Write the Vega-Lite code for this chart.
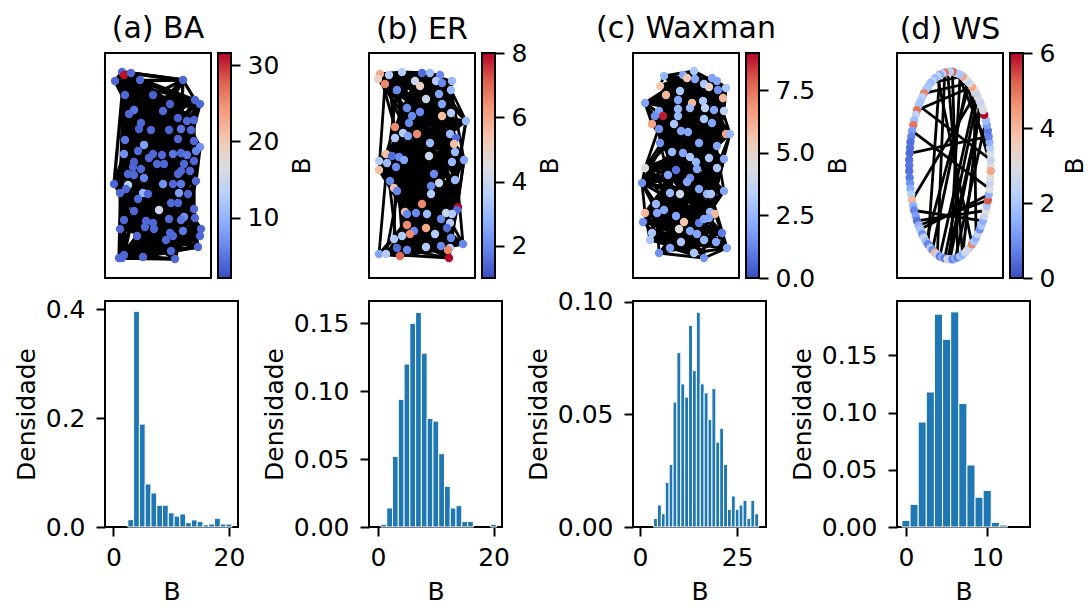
{
"$schema":"https://vega.github.io/schema/vega-lite/v6.json",
"background":"white",
"padding":{"left":13,"top":14,"right":0,"bottom":0},
"config":{
 "font":"DejaVu Sans",
 "view":{"stroke":"black","strokeWidth":2},
 "axis":{"labelFont":"DejaVu Sans","titleFont":"DejaVu Sans","labelFontSize":25,"titleFontSize":25,"titleFontWeight":"normal","labelColor":"black","titleColor":"black","tickColor":"black","tickWidth":2,"tickSize":9,"domain":false,"grid":false,"labelPadding":9,"labelFlush":false,"labelOverlap":false,"titlePadding":9},
 "title":{"font":"DejaVu Sans","fontSize":30,"fontWeight":"normal","color":"black","offset":14,"baseline":"alphabetic","frame":"group"}
},
"datasets":{
 "nodesA":[
{"id":1,"x":0.17,"y":2.06,"B":4,"nb":[3,6,12,24,32,42]},
{"id":2,"x":0.19,"y":2.03,"B":31,"nb":[4,7,8,12,13,14,17,19,20,25,26,29,30,33,37,43,44,48,52,53,57,58,62,66,71,78,84,88,90]},
{"id":3,"x":0.26,"y":2.05,"B":4,"nb":[5,8,14,26,34,44]},
{"id":4,"x":0.10,"y":1.97,"B":4,"nb":[6,9,15,27,35]},
{"id":5,"x":0.35,"y":1.98,"B":4,"nb":[7,10,16,28,36,46]},
{"id":6,"x":0.78,"y":1.98,"B":4,"nb":[8,11,17,29,37]},
{"id":7,"x":0.20,"y":1.83,"B":4,"nb":[9,12,18,30,38,48]},
{"id":8,"x":0.48,"y":1.83,"B":3.5,"nb":[10,13,19,31,39]},
{"id":9,"x":0.90,"y":1.78,"B":4,"nb":[11,14,20,32,40,50]},
{"id":10,"x":0.95,"y":1.74,"B":4,"nb":[12,15,21,33,41]},
{"id":11,"x":0.65,"y":1.74,"B":3.5,"nb":[13,16,22,34,42,52]},
{"id":12,"x":0.29,"y":1.68,"B":5,"nb":[14,17,23,35,43]},
{"id":13,"x":0.24,"y":1.64,"B":4,"nb":[15,18,24,36,44,54]},
{"id":14,"x":0.58,"y":1.67,"B":4,"nb":[16,19,25,37,45]},
{"id":15,"x":0.73,"y":1.60,"B":3.5,"nb":[17,20,26,38,46,56]},
{"id":16,"x":0.89,"y":1.58,"B":4,"nb":[18,21,27,39,47]},
{"id":17,"x":0.36,"y":1.55,"B":4,"nb":[19,22,28,40,48,58]},
{"id":18,"x":0.82,"y":1.57,"B":4,"nb":[20,23,29,41,49]},
{"id":19,"x":0.34,"y":1.49,"B":3.5,"nb":[21,24,30,42,50,60]},
{"id":20,"x":0.46,"y":1.48,"B":4,"nb":[22,25,31,43,51]},
{"id":21,"x":0.76,"y":1.49,"B":5,"nb":[23,26,32,44,52,62]},
{"id":22,"x":0.64,"y":1.48,"B":3.5,"nb":[24,27,33,45,53]},
{"id":23,"x":0.86,"y":1.48,"B":4,"nb":[25,28,34,46,54,64]},
{"id":24,"x":0.20,"y":1.38,"B":5,"nb":[26,29,35,47,55]},
{"id":25,"x":0.73,"y":1.39,"B":4,"nb":[27,30,36,48,56,66]},
{"id":26,"x":0.39,"y":1.33,"B":8,"nb":[28,31,37,49,57]},
{"id":27,"x":0.89,"y":1.37,"B":4,"nb":[29,32,38,50,58,68]},
{"id":28,"x":0.95,"y":1.31,"B":7,"nb":[30,33,39,51,59]},
{"id":29,"x":0.19,"y":1.24,"B":7,"nb":[31,34,40,52,60,70]},
{"id":30,"x":0.33,"y":1.27,"B":4,"nb":[32,35,41,53,61]},
{"id":31,"x":0.48,"y":1.24,"B":4,"nb":[33,36,42,54,62,72]},
{"id":32,"x":0.57,"y":1.23,"B":4,"nb":[34,37,43,55,63]},
{"id":33,"x":0.68,"y":1.24,"B":5,"nb":[35,38,44,56,64,74]},
{"id":34,"x":0.76,"y":1.25,"B":4,"nb":[36,39,45,57,65]},
{"id":35,"x":0.82,"y":1.23,"B":5,"nb":[37,40,46,58,66,76]},
{"id":36,"x":0.91,"y":1.27,"B":6,"nb":[38,41,47,59,67]},
{"id":37,"x":0.29,"y":1.16,"B":3.5,"nb":[39,42,48,60,68,78]},
{"id":38,"x":0.44,"y":1.20,"B":4,"nb":[40,43,49,61,69]},
{"id":39,"x":0.52,"y":1.14,"B":4,"nb":[41,44,50,62,70,80]},
{"id":40,"x":0.59,"y":1.14,"B":4,"nb":[42,45,51,63,71]},
{"id":41,"x":0.79,"y":1.14,"B":4,"nb":[43,46,52,64,72,82]},
{"id":42,"x":0.89,"y":1.17,"B":4,"nb":[44,47,53,65,73]},
{"id":43,"x":0.28,"y":1.11,"B":4,"nb":[45,48,54,66,74,84]},
{"id":44,"x":0.36,"y":1.09,"B":4,"nb":[46,49,55,67,75]},
{"id":45,"x":0.76,"y":1.07,"B":4,"nb":[47,50,56,68,76,86]},
{"id":46,"x":0.85,"y":1.07,"B":4,"nb":[48,51,57,69,77]},
{"id":47,"x":0.73,"y":1.04,"B":4,"nb":[49,52,58,70,78,88]},
{"id":48,"x":0.23,"y":1.04,"B":4,"nb":[50,53,59,71,79]},
{"id":49,"x":0.29,"y":1.03,"B":4,"nb":[51,54,60,72,80,90]},
{"id":50,"x":0.39,"y":1.00,"B":6,"nb":[52,55,61,73,81]},
{"id":51,"x":0.91,"y":0.97,"B":4,"nb":[53,56,62,74,82,92]},
{"id":52,"x":0.09,"y":0.94,"B":4,"nb":[54,57,63,75,83]},
{"id":53,"x":0.23,"y":0.93,"B":13,"nb":[55,58,64,76,84]},
{"id":54,"x":0.68,"y":0.94,"B":4,"nb":[56,59,65,77,85]},
{"id":55,"x":0.76,"y":0.94,"B":5,"nb":[57,60,66,78,86]},
{"id":56,"x":0.58,"y":0.94,"B":7,"nb":[58,61,67,79,87]},
{"id":57,"x":0.15,"y":0.85,"B":4,"nb":[59,62,68,80,88]},
{"id":58,"x":0.21,"y":0.89,"B":4,"nb":[60,63,69,81,89]},
{"id":59,"x":0.38,"y":0.85,"B":10,"nb":[61,64,70,82,90]},
{"id":60,"x":0.43,"y":0.84,"B":4,"nb":[62,65,71,83,91]},
{"id":61,"x":0.74,"y":0.85,"B":8,"nb":[63,66,72,84,92]},
{"id":62,"x":0.33,"y":0.79,"B":4,"nb":[64,67,73,85]},
{"id":63,"x":0.83,"y":0.84,"B":4,"nb":[65,68,74,86]},
{"id":64,"x":0.66,"y":0.75,"B":4,"nb":[66,69,75,87]},
{"id":65,"x":0.73,"y":0.75,"B":4,"nb":[67,70,76,88]},
{"id":66,"x":0.29,"y":0.67,"B":4,"nb":[68,71,77,89]},
{"id":67,"x":0.54,"y":0.68,"B":15,"nb":[69,72,78,90]},
{"id":68,"x":0.89,"y":0.69,"B":4,"nb":[70,73,79,91]},
{"id":69,"x":0.79,"y":0.61,"B":7,"nb":[71,74,80,92]},
{"id":70,"x":0.90,"y":0.60,"B":4,"nb":[72,75,81]},
{"id":71,"x":0.19,"y":0.58,"B":4,"nb":[73,76,82]},
{"id":72,"x":0.41,"y":0.57,"B":4,"nb":[74,77,83]},
{"id":73,"x":0.48,"y":0.55,"B":4,"nb":[75,78,84]},
{"id":74,"x":0.64,"y":0.59,"B":4,"nb":[76,79,85]},
{"id":75,"x":0.76,"y":0.58,"B":5,"nb":[77,80,86]},
{"id":76,"x":0.40,"y":0.51,"B":4,"nb":[78,81,87]},
{"id":77,"x":0.49,"y":0.49,"B":4,"nb":[79,82,88]},
{"id":78,"x":0.15,"y":0.49,"B":4,"nb":[80,83,89]},
{"id":79,"x":0.78,"y":0.47,"B":5,"nb":[81,84,90]},
{"id":80,"x":0.96,"y":0.49,"B":4,"nb":[82,85,91]},
{"id":81,"x":0.65,"y":0.45,"B":4,"nb":[83,86,92]},
{"id":82,"x":0.61,"y":0.38,"B":4,"nb":[84,87]},
{"id":83,"x":0.68,"y":0.42,"B":4,"nb":[85,88]},
{"id":84,"x":0.32,"y":0.42,"B":4,"nb":[86,89]},
{"id":85,"x":0.95,"y":0.42,"B":4,"nb":[87,90]},
{"id":86,"x":0.93,"y":0.31,"B":4,"nb":[88,91]},
{"id":87,"x":0.66,"y":0.27,"B":4,"nb":[89,92]},
{"id":88,"x":0.17,"y":0.20,"B":4,"nb":[90]},
{"id":89,"x":0.19,"y":0.23,"B":4,"nb":[91]},
{"id":90,"x":0.14,"y":0.20,"B":4,"nb":[92]},
{"id":91,"x":0.38,"y":0.21,"B":4,"nb":[]},
{"id":92,"x":0.70,"y":0.19,"B":4,"nb":[]}
 ],
 "moreA":[
{"id":1,"nb":[4,9,16]},{"id":2,"nb":[5,10,17]},{"id":3,"nb":[6,11,18]},{"id":4,"nb":[7,12,19]},{"id":5,"nb":[8,13,20]},{"id":6,"nb":[9,14,21]},{"id":7,"nb":[10,15,22]},{"id":8,"nb":[11,16,23]},{"id":9,"nb":[12,17,24]},{"id":10,"nb":[13,18,25]},
{"id":11,"nb":[14,19,26]},{"id":12,"nb":[15,20,27]},{"id":13,"nb":[16,21,28]},{"id":14,"nb":[17,22,29]},{"id":15,"nb":[18,23,30]},{"id":16,"nb":[19,24,31]},{"id":17,"nb":[20,25,32]},{"id":18,"nb":[21,26,33]},{"id":19,"nb":[22,27,34]},{"id":20,"nb":[23,28,35]},
{"id":21,"nb":[24,29,36]},{"id":22,"nb":[25,30,37]},{"id":23,"nb":[26,31,38]},{"id":24,"nb":[27,32,39]},{"id":25,"nb":[28,33,40]},{"id":26,"nb":[29,34,41]},{"id":27,"nb":[30,35,42]},{"id":28,"nb":[31,36,43]},{"id":29,"nb":[32,37,44]},{"id":30,"nb":[33,38,45]},
{"id":31,"nb":[34,39,46]},{"id":32,"nb":[35,40,47]},{"id":33,"nb":[36,41,48]},{"id":34,"nb":[37,42,49]},{"id":35,"nb":[38,43,50]},{"id":36,"nb":[39,44,51]},{"id":37,"nb":[40,45,52]},{"id":38,"nb":[41,46,53]},{"id":39,"nb":[42,47,54]},{"id":40,"nb":[43,48,55]},
{"id":41,"nb":[44,49,56]},{"id":42,"nb":[45,50,57]},{"id":43,"nb":[46,51,58]},{"id":44,"nb":[47,52,59]},{"id":45,"nb":[48,53,60]},{"id":46,"nb":[49,54,61]},{"id":47,"nb":[50,55,62]},{"id":48,"nb":[51,56,63]},{"id":49,"nb":[52,57,64]},{"id":50,"nb":[53,58,65]},
{"id":51,"nb":[54,59,66]},{"id":52,"nb":[55,60,67]},{"id":53,"nb":[56,61,68]},{"id":54,"nb":[57,62,69]},{"id":55,"nb":[58,63,70]},{"id":56,"nb":[59,64,71]},{"id":57,"nb":[60,65,72]},{"id":58,"nb":[61,66,73]},{"id":59,"nb":[62,67,74]},{"id":60,"nb":[63,68,75]},
{"id":61,"nb":[64,69,76]},{"id":62,"nb":[65,70,77]},{"id":63,"nb":[66,71,78]},{"id":64,"nb":[67,72,79]},{"id":65,"nb":[68,73,80]},{"id":66,"nb":[69,74,81]},{"id":67,"nb":[70,75,82]},{"id":68,"nb":[71,76,83]},{"id":69,"nb":[72,77,84]},{"id":70,"nb":[73,78,85]},
{"id":71,"nb":[74,79,86]},{"id":72,"nb":[75,80,87]},{"id":73,"nb":[76,81,88]},{"id":74,"nb":[77,82,89]},{"id":75,"nb":[78,83,90]},{"id":76,"nb":[79,84,91]},{"id":77,"nb":[80,85,92]},{"id":78,"nb":[81,86]},{"id":79,"nb":[82,87]},{"id":80,"nb":[83,88]},
{"id":81,"nb":[84,89]},{"id":82,"nb":[85,90]},{"id":83,"nb":[86,91]},{"id":84,"nb":[87,92]},{"id":85,"nb":[88]},{"id":86,"nb":[89]},{"id":87,"nb":[90]},{"id":88,"nb":[91]},{"id":89,"nb":[92]}
 ],
 "nodesB":[
{"id":1,"x":0.11,"y":2.04,"B":6,"nb":[3,5,10,18,28,42]},
{"id":2,"x":0.09,"y":1.99,"B":5,"nb":[4,6,11,19,29,43]},
{"id":3,"x":0.20,"y":2.03,"B":3.5,"nb":[5,7,12,20,30,44]},
{"id":4,"x":0.16,"y":1.94,"B":6.5,"nb":[6,8,13,21,31,45]},
{"id":5,"x":0.33,"y":2.06,"B":3.5,"nb":[7,9,14,22,32,46]},
{"id":6,"x":0.53,"y":2.05,"B":1.5,"nb":[8,10,15,23,33,47]},
{"id":7,"x":0.61,"y":2.05,"B":3,"nb":[9,11,16,24,34,48]},
{"id":8,"x":0.71,"y":2.03,"B":2,"nb":[10,12,17,25,35,49]},
{"id":9,"x":0.46,"y":1.97,"B":4,"nb":[11,13,18,26,36,50]},
{"id":10,"x":0.51,"y":1.92,"B":5,"nb":[12,14,19,27,37,51]},
{"id":11,"x":0.67,"y":1.97,"B":3.5,"nb":[13,15,20,28,38,52]},
{"id":12,"x":0.73,"y":1.95,"B":2,"nb":[14,16,21,29,39,53]},
{"id":13,"x":0.83,"y":1.97,"B":3,"nb":[15,17,22,30,40,54]},
{"id":14,"x":0.28,"y":1.88,"B":2,"nb":[16,18,23,31,41,55]},
{"id":15,"x":0.70,"y":1.84,"B":2.5,"nb":[17,19,24,32,42,56]},
{"id":16,"x":0.57,"y":1.79,"B":4,"nb":[18,20,25,33,43,57]},
{"id":17,"x":0.82,"y":1.88,"B":3,"nb":[19,21,26,34,44,58]},
{"id":18,"x":0.73,"y":1.74,"B":2.5,"nb":[20,22,27,35,45,59]},
{"id":19,"x":0.38,"y":1.70,"B":2,"nb":[21,23,28,36,46,60]},
{"id":20,"x":0.51,"y":1.66,"B":2,"nb":[22,24,29,37,47,61]},
{"id":21,"x":0.82,"y":1.65,"B":3.5,"nb":[23,25,30,38,48,62]},
{"id":22,"x":0.43,"y":1.62,"B":2,"nb":[24,26,31,39,49,63]},
{"id":23,"x":0.73,"y":1.62,"B":5.5,"nb":[25,27,32,40,50,64]},
{"id":24,"x":0.97,"y":1.57,"B":3,"nb":[26,28,33,41,51,65]},
{"id":25,"x":0.40,"y":1.55,"B":2,"nb":[27,29,34,42,52,66]},
{"id":26,"x":0.26,"y":1.51,"B":6.5,"nb":[28,30,35,43,53,67]},
{"id":27,"x":0.34,"y":1.45,"B":3.5,"nb":[29,31,36,44,54,68]},
{"id":28,"x":0.39,"y":1.42,"B":2.5,"nb":[30,32,37,45,55,69]},
{"id":29,"x":0.48,"y":1.44,"B":6.5,"nb":[31,33,38,46,56,70]},
{"id":30,"x":0.26,"y":1.40,"B":3.5,"nb":[32,34,39,47,57,71]},
{"id":31,"x":0.81,"y":1.44,"B":3,"nb":[33,35,40,48,58,72]},
{"id":32,"x":0.87,"y":1.40,"B":1.5,"nb":[34,36,41,49,59,73]},
{"id":33,"x":0.61,"y":1.35,"B":3,"nb":[35,37,42,50,60,74]},
{"id":34,"x":0.85,"y":1.34,"B":5.5,"nb":[36,38,43,51,61,75]},
{"id":35,"x":0.17,"y":1.24,"B":5.5,"nb":[37,39,44,52,62,76]},
{"id":36,"x":0.23,"y":1.22,"B":1.5,"nb":[38,40,45,53,63,77]},
{"id":37,"x":0.30,"y":1.21,"B":2,"nb":[39,41,46,54,64,78]},
{"id":38,"x":0.60,"y":1.22,"B":4,"nb":[40,42,47,55,65,79]},
{"id":39,"x":0.86,"y":1.26,"B":3,"nb":[41,43,48,56,66,80]},
{"id":40,"x":0.10,"y":1.17,"B":3.5,"nb":[42,44,49,57,67,81]},
{"id":41,"x":0.18,"y":1.15,"B":3,"nb":[43,45,50,58,68,82]},
{"id":42,"x":0.35,"y":1.18,"B":2.5,"nb":[44,46,51,59,69,83]},
{"id":43,"x":0.83,"y":1.16,"B":3,"nb":[45,47,52,60,70,84]},
{"id":44,"x":0.95,"y":1.18,"B":2.5,"nb":[46,48,53,61,71,85]},
{"id":45,"x":0.10,"y":1.08,"B":5.5,"nb":[47,49,54,62,72]},
{"id":46,"x":0.27,"y":1.11,"B":2,"nb":[48,50,55,63,73]},
{"id":47,"x":0.65,"y":1.04,"B":2,"nb":[49,51,56,64,74]},
{"id":48,"x":0.21,"y":0.97,"B":2,"nb":[50,52,57,65,75]},
{"id":49,"x":0.62,"y":0.92,"B":2,"nb":[51,53,58,66,76]},
{"id":50,"x":0.70,"y":0.95,"B":4,"nb":[52,54,59,67,77]},
{"id":51,"x":0.86,"y":0.98,"B":3,"nb":[53,55,60,68,78]},
{"id":52,"x":0.25,"y":0.90,"B":5.5,"nb":[54,56,61,69,79]},
{"id":53,"x":0.28,"y":0.87,"B":2,"nb":[55,57,62,70,80]},
{"id":54,"x":0.62,"y":0.84,"B":3.5,"nb":[56,58,63,71,81]},
{"id":55,"x":0.53,"y":0.74,"B":6.5,"nb":[57,59,64,72,82]},
{"id":56,"x":0.89,"y":0.71,"B":8,"nb":[58,60,65,73,83]},
{"id":57,"x":0.88,"y":0.68,"B":1.5,"nb":[59,61,66,74,84]},
{"id":58,"x":0.36,"y":0.66,"B":5.5,"nb":[60,62,67,75,85]},
{"id":59,"x":0.38,"y":0.64,"B":2,"nb":[61,63,68,76]},
{"id":60,"x":0.47,"y":0.65,"B":2,"nb":[62,64,69,77]},
{"id":61,"x":0.58,"y":0.64,"B":3,"nb":[63,65,70,78]},
{"id":62,"x":0.77,"y":0.65,"B":4,"nb":[64,66,71,79]},
{"id":63,"x":0.83,"y":0.64,"B":3.5,"nb":[65,67,72,80]},
{"id":64,"x":0.72,"y":0.59,"B":2,"nb":[66,68,73,81]},
{"id":65,"x":0.81,"y":0.55,"B":3.5,"nb":[67,69,74,82]},
{"id":66,"x":0.38,"y":0.53,"B":6.5,"nb":[68,70,75,83]},
{"id":67,"x":0.57,"y":0.50,"B":6,"nb":[69,71,76,84]},
{"id":68,"x":0.45,"y":0.47,"B":2,"nb":[70,72,77,85]},
{"id":69,"x":0.78,"y":0.50,"B":1.5,"nb":[71,73,78]},
{"id":70,"x":0.41,"y":0.44,"B":6.5,"nb":[72,74,79]},
{"id":71,"x":0.33,"y":0.42,"B":3.5,"nb":[73,75,80]},
{"id":72,"x":0.66,"y":0.44,"B":3.5,"nb":[74,76,81]},
{"id":73,"x":0.25,"y":0.39,"B":3.5,"nb":[75,77,82]},
{"id":74,"x":0.82,"y":0.40,"B":2,"nb":[76,78,83]},
{"id":75,"x":0.94,"y":0.34,"B":2,"nb":[77,79,84]},
{"id":76,"x":0.28,"y":0.30,"B":1.5,"nb":[78,80,85]},
{"id":77,"x":0.38,"y":0.28,"B":2,"nb":[79,81]},
{"id":78,"x":0.57,"y":0.31,"B":3.5,"nb":[80,82]},
{"id":79,"x":0.72,"y":0.32,"B":2,"nb":[81,83]},
{"id":80,"x":0.81,"y":0.30,"B":3.5,"nb":[82,84]},
{"id":81,"x":0.79,"y":0.28,"B":6.5,"nb":[83,85]},
{"id":82,"x":0.10,"y":0.24,"B":2.5,"nb":[84]},
{"id":83,"x":0.17,"y":0.24,"B":3.5,"nb":[85]},
{"id":84,"x":0.31,"y":0.22,"B":7,"nb":[]},
{"id":85,"x":0.80,"y":0.20,"B":8,"nb":[]}
 ],
 "moreB":[
{"id":1,"nb":[8,14]},{"id":2,"nb":[9,15]},{"id":3,"nb":[10,16]},{"id":4,"nb":[11,17]},{"id":5,"nb":[12,18]},{"id":6,"nb":[13,19]},{"id":7,"nb":[14,20]},{"id":8,"nb":[15,21]},{"id":9,"nb":[16,22]},{"id":10,"nb":[17,23]},
{"id":11,"nb":[18,24]},{"id":12,"nb":[19,25]},{"id":13,"nb":[20,26]},{"id":14,"nb":[21,27]},{"id":15,"nb":[22,28]},{"id":16,"nb":[23,29]},{"id":17,"nb":[24,30]},{"id":18,"nb":[25,31]},{"id":19,"nb":[26,32]},{"id":20,"nb":[27,33]},
{"id":21,"nb":[28,34]},{"id":22,"nb":[29,35]},{"id":23,"nb":[30,36]},{"id":24,"nb":[31,37]},{"id":25,"nb":[32,38]},{"id":26,"nb":[33,39]},{"id":27,"nb":[34,40]},{"id":28,"nb":[35,41]},{"id":29,"nb":[36,42]},{"id":30,"nb":[37,43]},
{"id":31,"nb":[38,44]},{"id":32,"nb":[39,45]},{"id":33,"nb":[40,46]},{"id":34,"nb":[41,47]},{"id":35,"nb":[42,48]},{"id":36,"nb":[43,49]},{"id":37,"nb":[44,50]},{"id":38,"nb":[45,51]},{"id":39,"nb":[46,52]},{"id":40,"nb":[47,53]},
{"id":41,"nb":[48,54]},{"id":42,"nb":[49,55]},{"id":43,"nb":[50,56]},{"id":44,"nb":[51,57]},{"id":45,"nb":[52,58]},{"id":46,"nb":[53,59]},{"id":47,"nb":[54,60]},{"id":48,"nb":[55,61]},{"id":49,"nb":[56,62]},{"id":50,"nb":[57,63]},
{"id":51,"nb":[58,64]},{"id":52,"nb":[59,65]},{"id":53,"nb":[60,66]},{"id":54,"nb":[61,67]},{"id":55,"nb":[62,68]},{"id":56,"nb":[63,69]},{"id":57,"nb":[64,70]},{"id":58,"nb":[65,71]},{"id":59,"nb":[66,72]},{"id":60,"nb":[67,73]},
{"id":61,"nb":[68,74]},{"id":62,"nb":[69,75]},{"id":63,"nb":[70,76]},{"id":64,"nb":[71,77]},{"id":65,"nb":[72,78]},{"id":66,"nb":[73,79]},{"id":67,"nb":[74,80]},{"id":68,"nb":[75,81]},{"id":69,"nb":[76,82]},{"id":70,"nb":[77,83]},
{"id":71,"nb":[78,84]},{"id":72,"nb":[79,85]},{"id":73,"nb":[80]},{"id":74,"nb":[81]},{"id":75,"nb":[82]},{"id":76,"nb":[83]},{"id":77,"nb":[84]},{"id":78,"nb":[85]}
 ],
 "nodesC":[
{"id":1,"x":0.31,"y":2.02,"B":2.5,"nb":[3,4,8,12,18,27]},
{"id":2,"x":0.50,"y":2.03,"B":2,"nb":[4,5,9,13,19,28]},
{"id":3,"x":0.61,"y":2.07,"B":3,"nb":[5,6,10,14,20,29]},
{"id":4,"x":0.54,"y":2.00,"B":5.5,"nb":[6,7,11,15,21,30]},
{"id":5,"x":0.62,"y":1.99,"B":2,"nb":[7,8,12,16,22,31]},
{"id":6,"x":0.27,"y":1.92,"B":5.5,"nb":[8,9,13,17,23,32]},
{"id":7,"x":0.33,"y":1.83,"B":6,"nb":[9,10,14,18,24,33]},
{"id":8,"x":0.47,"y":1.87,"B":3,"nb":[10,11,15,19,25,34]},
{"id":9,"x":0.71,"y":1.94,"B":3,"nb":[11,12,16,20,26,35]},
{"id":10,"x":0.76,"y":1.91,"B":5,"nb":[12,13,17,21,27,36]},
{"id":11,"x":0.79,"y":2.00,"B":2,"nb":[13,14,18,22,28,37]},
{"id":12,"x":0.84,"y":1.97,"B":2,"nb":[14,15,19,23,29,38]},
{"id":13,"x":0.85,"y":1.88,"B":1.5,"nb":[15,16,20,24,30,39]},
{"id":14,"x":0.93,"y":1.90,"B":3,"nb":[16,17,21,25,31,40]},
{"id":15,"x":0.90,"y":1.80,"B":6,"nb":[17,18,22,26,32,41]},
{"id":16,"x":0.12,"y":1.75,"B":2,"nb":[18,19,23,27,33,42]},
{"id":17,"x":0.45,"y":1.78,"B":2,"nb":[19,20,24,28,34,43]},
{"id":18,"x":0.59,"y":1.75,"B":6,"nb":[20,21,25,29,35,44]},
{"id":19,"x":0.70,"y":1.77,"B":3,"nb":[21,22,26,30,36,45]},
{"id":20,"x":0.26,"y":1.67,"B":2,"nb":[22,23,27,31,37,46]},
{"id":21,"x":0.30,"y":1.62,"B":8.7,"nb":[23,24,28,32,38,47]},
{"id":22,"x":0.22,"y":1.62,"B":1.5,"nb":[24,25,29,33,39,48]},
{"id":23,"x":0.45,"y":1.69,"B":2.5,"nb":[25,26,30,34,40,49]},
{"id":24,"x":0.57,"y":1.70,"B":2.5,"nb":[26,27,31,35,41,50]},
{"id":25,"x":0.72,"y":1.70,"B":3.5,"nb":[27,28,32,36,42,51]},
{"id":26,"x":0.81,"y":1.68,"B":2,"nb":[28,29,33,37,43,52]},
{"id":27,"x":0.91,"y":1.67,"B":3.5,"nb":[29,30,34,38,44,53]},
{"id":28,"x":0.45,"y":1.62,"B":2.5,"nb":[30,31,35,39,45,54]},
{"id":29,"x":0.19,"y":1.54,"B":6.5,"nb":[31,32,36,40,46,55]},
{"id":30,"x":0.41,"y":1.54,"B":3,"nb":[32,33,37,41,47,56]},
{"id":31,"x":0.71,"y":1.59,"B":3,"nb":[33,34,38,42,48,57]},
{"id":32,"x":0.79,"y":1.55,"B":2,"nb":[34,35,39,43,49,58]},
{"id":33,"x":0.26,"y":1.49,"B":1.5,"nb":[35,36,40,44,50,59]},
{"id":34,"x":0.48,"y":1.47,"B":2,"nb":[36,37,41,45,51,60]},
{"id":35,"x":0.55,"y":1.46,"B":2,"nb":[37,38,42,46,52,61]},
{"id":36,"x":0.93,"y":1.44,"B":6.5,"nb":[38,39,43,47,53,62]},
{"id":37,"x":0.97,"y":1.44,"B":2.5,"nb":[39,40,44,48,54,63]},
{"id":38,"x":0.27,"y":1.35,"B":1.5,"nb":[40,41,45,49,55,64]},
{"id":39,"x":0.66,"y":1.35,"B":2,"nb":[41,42,46,50,56,65]},
{"id":40,"x":0.84,"y":1.32,"B":2,"nb":[42,43,47,51,57,66]},
{"id":41,"x":0.39,"y":1.26,"B":2.5,"nb":[43,44,48,52,58,67]},
{"id":42,"x":0.50,"y":1.25,"B":2,"nb":[44,45,49,53,59,68]},
{"id":43,"x":0.76,"y":1.20,"B":3,"nb":[45,46,50,54,60,69]},
{"id":44,"x":0.57,"y":1.21,"B":3,"nb":[46,47,51,55,61,70]},
{"id":45,"x":0.63,"y":1.16,"B":2.5,"nb":[47,48,52,56,62,71]},
{"id":46,"x":0.91,"y":1.19,"B":2,"nb":[48,49,53,57,63,72]},
{"id":47,"x":0.12,"y":1.10,"B":4.5,"nb":[49,50,54,58,64,73]},
{"id":48,"x":0.43,"y":1.08,"B":0.8,"nb":[50,51,55,59,65,74]},
{"id":49,"x":0.64,"y":1.09,"B":2,"nb":[51,52,56,60,66,75]},
{"id":50,"x":0.84,"y":1.10,"B":3,"nb":[52,53,57,61,67,76]},
{"id":51,"x":0.35,"y":1.03,"B":2,"nb":[53,54,58,62,68,77]},
{"id":52,"x":0.57,"y":1.00,"B":1.5,"nb":[54,55,59,63,69,78]},
{"id":53,"x":0.54,"y":0.96,"B":2,"nb":[55,56,60,64,70,79]},
{"id":54,"x":0.09,"y":0.95,"B":1.5,"nb":[56,57,61,65,71,80]},
{"id":55,"x":0.66,"y":0.89,"B":2,"nb":[57,58,62,66,72,81]},
{"id":56,"x":0.74,"y":0.84,"B":2.5,"nb":[58,59,63,67,73,82]},
{"id":57,"x":0.78,"y":0.84,"B":3,"nb":[59,60,64,68,74,83]},
{"id":58,"x":0.91,"y":0.87,"B":2,"nb":[60,61,65,69,75,84]},
{"id":59,"x":0.47,"y":0.84,"B":4,"nb":[61,62,66,70,76,85]},
{"id":60,"x":0.37,"y":0.85,"B":2.5,"nb":[62,63,67,71,77,86]},
{"id":61,"x":0.23,"y":0.74,"B":2.5,"nb":[63,64,68,72,78]},
{"id":62,"x":0.31,"y":0.68,"B":2,"nb":[64,65,69,73,79]},
{"id":63,"x":0.77,"y":0.66,"B":2.5,"nb":[65,66,70,74,80]},
{"id":64,"x":0.82,"y":0.64,"B":6,"nb":[66,67,71,75,81]},
{"id":65,"x":0.12,"y":0.65,"B":6,"nb":[67,68,72,76,82]},
{"id":66,"x":0.10,"y":0.56,"B":1.5,"nb":[68,69,73,77,83]},
{"id":67,"x":0.24,"y":0.65,"B":2,"nb":[69,70,74,78,84]},
{"id":68,"x":0.43,"y":0.62,"B":2,"nb":[70,71,75,79,85]},
{"id":69,"x":0.51,"y":0.56,"B":5.5,"nb":[71,72,76,80,86]},
{"id":70,"x":0.66,"y":0.55,"B":1,"nb":[72,73,77,81]},
{"id":71,"x":0.71,"y":0.59,"B":2,"nb":[73,74,78,82]},
{"id":72,"x":0.76,"y":0.60,"B":2,"nb":[74,75,79,83]},
{"id":73,"x":0.46,"y":0.49,"B":4.5,"nb":[75,76,80,84]},
{"id":74,"x":0.19,"y":0.45,"B":3,"nb":[76,77,81,85]},
{"id":75,"x":0.57,"y":0.47,"B":2,"nb":[77,78,82,86]},
{"id":76,"x":0.64,"y":0.44,"B":2,"nb":[78,79,83]},
{"id":77,"x":0.89,"y":0.45,"B":1,"nb":[79,80,84]},
{"id":78,"x":0.17,"y":0.38,"B":3,"nb":[80,81,85]},
{"id":79,"x":0.37,"y":0.30,"B":2,"nb":[81,82,86]},
{"id":80,"x":0.48,"y":0.36,"B":3,"nb":[82,83]},
{"id":81,"x":0.71,"y":0.38,"B":2.5,"nb":[83,84]},
{"id":82,"x":0.83,"y":0.36,"B":2,"nb":[84,85]},
{"id":83,"x":0.94,"y":0.30,"B":2,"nb":[85,86]},
{"id":84,"x":0.26,"y":0.25,"B":1.5,"nb":[86]},
{"id":85,"x":0.61,"y":0.25,"B":3,"nb":[]},
{"id":86,"x":0.71,"y":0.20,"B":1.5,"nb":[]}
 ],
 "moreC":[
{"id":1,"nb":[6,14]},{"id":2,"nb":[7,15]},{"id":3,"nb":[8,16]},{"id":4,"nb":[9,17]},{"id":5,"nb":[10,18]},{"id":6,"nb":[11,19]},{"id":7,"nb":[12,20]},{"id":8,"nb":[13,21]},{"id":9,"nb":[14,22]},{"id":10,"nb":[15,23]},
{"id":11,"nb":[16,24]},{"id":12,"nb":[17,25]},{"id":13,"nb":[18,26]},{"id":14,"nb":[19,27]},{"id":15,"nb":[20,28]},{"id":16,"nb":[21,29]},{"id":17,"nb":[22,30]},{"id":18,"nb":[23,31]},{"id":19,"nb":[24,32]},{"id":20,"nb":[25,33]},
{"id":21,"nb":[26,34]},{"id":22,"nb":[27,35]},{"id":23,"nb":[28,36]},{"id":24,"nb":[29,37]},{"id":25,"nb":[30,38]},{"id":26,"nb":[31,39]},{"id":27,"nb":[32,40]},{"id":28,"nb":[33,41]},{"id":29,"nb":[34,42]},{"id":30,"nb":[35,43]},
{"id":31,"nb":[36,44]},{"id":32,"nb":[37,45]},{"id":33,"nb":[38,46]},{"id":34,"nb":[39,47]},{"id":35,"nb":[40,48]},{"id":36,"nb":[41,49]},{"id":37,"nb":[42,50]},{"id":38,"nb":[43,51]},{"id":39,"nb":[44,52]},{"id":40,"nb":[45,53]},
{"id":41,"nb":[46,54]},{"id":42,"nb":[47,55]},{"id":43,"nb":[48,56]},{"id":44,"nb":[49,57]},{"id":45,"nb":[50,58]},{"id":46,"nb":[51,59]},{"id":47,"nb":[52,60]},{"id":48,"nb":[53,61]},{"id":49,"nb":[54,62]},{"id":50,"nb":[55,63]},
{"id":51,"nb":[56,64]},{"id":52,"nb":[57,65]},{"id":53,"nb":[58,66]},{"id":54,"nb":[59,67]},{"id":55,"nb":[60,68]},{"id":56,"nb":[61,69]},{"id":57,"nb":[62,70]},{"id":58,"nb":[63,71]},{"id":59,"nb":[64,72]},{"id":60,"nb":[65,73]},
{"id":61,"nb":[66,74]},{"id":62,"nb":[67,75]},{"id":63,"nb":[68,76]},{"id":64,"nb":[69,77]},{"id":65,"nb":[70,78]},{"id":66,"nb":[71,79]},{"id":67,"nb":[72,80]},{"id":68,"nb":[73,81]},{"id":69,"nb":[74,82]},{"id":70,"nb":[75,83]},
{"id":71,"nb":[76,84]},{"id":72,"nb":[77,85]},{"id":73,"nb":[78,86]},{"id":74,"nb":[79]},{"id":75,"nb":[80]},{"id":76,"nb":[81]},{"id":77,"nb":[82]},{"id":78,"nb":[83]},{"id":79,"nb":[84]},{"id":80,"nb":[85]},{"id":81,"nb":[86]}
 ],
 "nodesD":[
{"id":0,"x":1.00,"y":0.00,"B":3.0,"nb":[19]},
{"id":1,"x":1.00,"y":0.06,"B":2.5,"nb":[39]},
{"id":2,"x":0.99,"y":0.13,"B":3.0,"nb":[22]},
{"id":3,"x":0.98,"y":0.19,"B":2.2,"nb":[]},
{"id":4,"x":0.97,"y":0.25,"B":1.6,"nb":[]},
{"id":5,"x":0.95,"y":0.31,"B":0.8,"nb":[48]},
{"id":6,"x":0.93,"y":0.37,"B":0.6,"nb":[]},
{"id":7,"x":0.90,"y":0.43,"B":1.2,"nb":[]},
{"id":8,"x":0.88,"y":0.48,"B":1.8,"nb":[77]},
{"id":9,"x":0.84,"y":0.54,"B":6.0,"nb":[]},
{"id":10,"x":0.81,"y":0.59,"B":2.8,"nb":[]},
{"id":11,"x":0.77,"y":0.64,"B":3.0,"nb":[74,75]},
{"id":12,"x":0.73,"y":0.68,"B":2.5,"nb":[80]},
{"id":13,"x":0.68,"y":0.73,"B":3.0,"nb":[73]},
{"id":14,"x":0.64,"y":0.77,"B":2.4,"nb":[56,71]},
{"id":15,"x":0.59,"y":0.81,"B":3.2,"nb":[86]},
{"id":16,"x":0.54,"y":0.84,"B":4.3,"nb":[40]},
{"id":17,"x":0.48,"y":0.88,"B":3.0,"nb":[36,65]},
{"id":18,"x":0.43,"y":0.90,"B":2.5,"nb":[68]},
{"id":19,"x":0.37,"y":0.93,"B":3.0,"nb":[]},
{"id":20,"x":0.31,"y":0.95,"B":4.3,"nb":[33]},
{"id":21,"x":0.25,"y":0.97,"B":2.0,"nb":[75]},
{"id":22,"x":0.19,"y":0.98,"B":2.0,"nb":[]},
{"id":23,"x":0.13,"y":0.99,"B":2.2,"nb":[]},
{"id":24,"x":0.06,"y":1.00,"B":5.2,"nb":[78]},
{"id":25,"x":0.00,"y":1.00,"B":2.5,"nb":[]},
{"id":26,"x":-0.06,"y":1.00,"B":2.2,"nb":[80]},
{"id":27,"x":-0.13,"y":0.99,"B":5.0,"nb":[70]},
{"id":28,"x":-0.19,"y":0.98,"B":2.4,"nb":[]},
{"id":29,"x":-0.25,"y":0.97,"B":1.4,"nb":[66]},
{"id":30,"x":-0.31,"y":0.95,"B":2.6,"nb":[84]},
{"id":31,"x":-0.37,"y":0.93,"B":1.7,"nb":[]},
{"id":32,"x":-0.43,"y":0.90,"B":2.4,"nb":[]},
{"id":33,"x":-0.48,"y":0.88,"B":1.8,"nb":[]},
{"id":34,"x":-0.54,"y":0.84,"B":2.0,"nb":[]},
{"id":35,"x":-0.59,"y":0.81,"B":2.0,"nb":[]},
{"id":36,"x":-0.64,"y":0.77,"B":4.8,"nb":[]},
{"id":37,"x":-0.68,"y":0.73,"B":2.3,"nb":[]},
{"id":38,"x":-0.73,"y":0.68,"B":2.0,"nb":[]},
{"id":39,"x":-0.77,"y":0.64,"B":2.0,"nb":[]},
{"id":40,"x":-0.81,"y":0.59,"B":5.0,"nb":[]},
{"id":41,"x":-0.84,"y":0.54,"B":2.4,"nb":[]},
{"id":42,"x":-0.88,"y":0.48,"B":1.8,"nb":[]},
{"id":43,"x":-0.90,"y":0.43,"B":5.0,"nb":[]},
{"id":44,"x":-0.93,"y":0.37,"B":1.2,"nb":[96]},
{"id":45,"x":-0.95,"y":0.31,"B":0.8,"nb":[]},
{"id":46,"x":-0.97,"y":0.25,"B":0.5,"nb":[]},
{"id":47,"x":-0.98,"y":0.19,"B":0.5,"nb":[]},
{"id":48,"x":-0.99,"y":0.13,"B":0.4,"nb":[]},
{"id":49,"x":-1.00,"y":0.06,"B":0.5,"nb":[]},
{"id":50,"x":-1.00,"y":0.00,"B":0.6,"nb":[]},
{"id":51,"x":-1.00,"y":-0.06,"B":0.5,"nb":[]},
{"id":52,"x":-0.99,"y":-0.13,"B":0.6,"nb":[]},
{"id":53,"x":-0.98,"y":-0.19,"B":1.0,"nb":[]},
{"id":54,"x":-0.97,"y":-0.25,"B":1.5,"nb":[]},
{"id":55,"x":-0.95,"y":-0.31,"B":2.2,"nb":[]},
{"id":56,"x":-0.93,"y":-0.37,"B":4.0,"nb":[]},
{"id":57,"x":-0.90,"y":-0.43,"B":1.5,"nb":[]},
{"id":58,"x":-0.88,"y":-0.48,"B":0.8,"nb":[90]},
{"id":59,"x":-0.84,"y":-0.54,"B":1.2,"nb":[]},
{"id":60,"x":-0.81,"y":-0.59,"B":0.5,"nb":[92]},
{"id":61,"x":-0.77,"y":-0.64,"B":1.5,"nb":[94]},
{"id":62,"x":-0.73,"y":-0.68,"B":2.0,"nb":[95]},
{"id":63,"x":-0.68,"y":-0.73,"B":1.0,"nb":[]},
{"id":64,"x":-0.64,"y":-0.77,"B":2.5,"nb":[]},
{"id":65,"x":-0.59,"y":-0.81,"B":1.8,"nb":[]},
{"id":66,"x":-0.54,"y":-0.84,"B":0.8,"nb":[]},
{"id":67,"x":-0.48,"y":-0.88,"B":2.2,"nb":[]},
{"id":68,"x":-0.43,"y":-0.90,"B":1.0,"nb":[]},
{"id":69,"x":-0.37,"y":-0.93,"B":4.0,"nb":[]},
{"id":70,"x":-0.31,"y":-0.95,"B":2.4,"nb":[]},
{"id":71,"x":-0.25,"y":-0.97,"B":0.7,"nb":[]},
{"id":72,"x":-0.19,"y":-0.98,"B":1.5,"nb":[]},
{"id":73,"x":-0.13,"y":-0.99,"B":0.6,"nb":[]},
{"id":74,"x":-0.06,"y":-1.00,"B":3.2,"nb":[]},
{"id":75,"x":0.00,"y":-1.00,"B":2.5,"nb":[]},
{"id":76,"x":0.06,"y":-1.00,"B":0.8,"nb":[]},
{"id":77,"x":0.13,"y":-0.99,"B":1.5,"nb":[]},
{"id":78,"x":0.19,"y":-0.98,"B":0.6,"nb":[]},
{"id":79,"x":0.25,"y":-0.97,"B":2.0,"nb":[]},
{"id":80,"x":0.31,"y":-0.95,"B":1.5,"nb":[]},
{"id":81,"x":0.37,"y":-0.93,"B":2.5,"nb":[]},
{"id":82,"x":0.43,"y":-0.90,"B":3.0,"nb":[]},
{"id":83,"x":0.48,"y":-0.88,"B":2.6,"nb":[]},
{"id":84,"x":0.54,"y":-0.84,"B":4.8,"nb":[]},
{"id":85,"x":0.59,"y":-0.81,"B":2.0,"nb":[]},
{"id":86,"x":0.64,"y":-0.77,"B":1.5,"nb":[]},
{"id":87,"x":0.68,"y":-0.73,"B":2.5,"nb":[]},
{"id":88,"x":0.73,"y":-0.68,"B":1.0,"nb":[]},
{"id":89,"x":0.77,"y":-0.64,"B":2.0,"nb":[]},
{"id":90,"x":0.81,"y":-0.59,"B":1.5,"nb":[]},
{"id":91,"x":0.84,"y":-0.54,"B":2.5,"nb":[]},
{"id":92,"x":0.88,"y":-0.48,"B":3.0,"nb":[]},
{"id":93,"x":0.90,"y":-0.43,"B":2.0,"nb":[]},
{"id":94,"x":0.93,"y":-0.37,"B":5.3,"nb":[]},
{"id":95,"x":0.95,"y":-0.31,"B":1.5,"nb":[]},
{"id":96,"x":0.97,"y":-0.25,"B":3.0,"nb":[]},
{"id":97,"x":0.98,"y":-0.19,"B":2.5,"nb":[]},
{"id":98,"x":0.99,"y":-0.13,"B":3.0,"nb":[]},
{"id":99,"x":1.00,"y":-0.06,"B":4.3,"nb":[]}
 ],
 "histA":[
{"lo":2.5,"hi":3.5,"d":0.0135},{"lo":3.5,"hi":4.5,"d":0.396},{"lo":4.5,"hi":5.5,"d":0.189},{"lo":5.5,"hi":6.5,"d":0.079},{"lo":6.5,"hi":7.5,"d":0.0625},{"lo":7.5,"hi":8.5,"d":0.040},{"lo":8.5,"hi":9.5,"d":0.040},{"lo":9.5,"hi":10.5,"d":0.026},{"lo":10.5,"hi":11.5,"d":0.020},{"lo":11.5,"hi":12.5,"d":0.024},{"lo":12.5,"hi":13.5,"d":0.008},{"lo":13.5,"hi":14.5,"d":0.013},{"lo":14.5,"hi":15.5,"d":0.010},{"lo":15.5,"hi":16.5,"d":0.004},{"lo":16.5,"hi":17.5,"d":0.0055},{"lo":17.5,"hi":18.5,"d":0.016},{"lo":18.5,"hi":19.5,"d":0.0055},{"lo":19.5,"hi":20.5,"d":0.0055}
 ],
 "histB":[
{"lo":0.5,"hi":1.5,"d":0.002},{"lo":1.5,"hi":2.5,"d":0.014},{"lo":2.5,"hi":3.5,"d":0.052},{"lo":3.5,"hi":4.5,"d":0.094},{"lo":4.5,"hi":5.5,"d":0.120},{"lo":5.5,"hi":6.5,"d":0.150},{"lo":6.5,"hi":7.5,"d":0.158},{"lo":7.5,"hi":8.5,"d":0.128},{"lo":8.5,"hi":9.5,"d":0.080},{"lo":9.5,"hi":10.5,"d":0.078},{"lo":10.5,"hi":11.5,"d":0.054},{"lo":11.5,"hi":12.5,"d":0.030},{"lo":12.5,"hi":13.5,"d":0.014},{"lo":13.5,"hi":14.5,"d":0.0157},{"lo":14.5,"hi":15.5,"d":0.004},{"lo":15.5,"hi":16.5,"d":0.004},{"lo":19.5,"hi":20.5,"d":0.002}
 ],
 "histC":[
{"lo":3.5,"hi":4.5,"d":0.0038},{"lo":4.5,"hi":5.5,"d":0.0098},{"lo":5.5,"hi":6.5,"d":0.0059},{"lo":6.5,"hi":7.5,"d":0.0198},{"lo":7.5,"hi":8.5,"d":0.0278},{"lo":8.5,"hi":9.5,"d":0.0555},{"lo":9.5,"hi":10.5,"d":0.0775},{"lo":10.5,"hi":11.5,"d":0.0636},{"lo":11.5,"hi":12.5,"d":0.0577},{"lo":12.5,"hi":13.5,"d":0.0896},{"lo":13.5,"hi":14.5,"d":0.0695},{"lo":14.5,"hi":15.5,"d":0.0954},{"lo":15.5,"hi":16.5,"d":0.0636},{"lo":16.5,"hi":17.5,"d":0.0596},{"lo":17.5,"hi":18.5,"d":0.0478},{"lo":18.5,"hi":19.5,"d":0.0615},{"lo":19.5,"hi":20.5,"d":0.0377},{"lo":20.5,"hi":21.5,"d":0.0438},{"lo":21.5,"hi":22.5,"d":0.0278},{"lo":22.5,"hi":23.5,"d":0.0078},{"lo":23.5,"hi":24.5,"d":0.0138},{"lo":24.5,"hi":25.5,"d":0.0078},{"lo":25.5,"hi":26.5,"d":0.0098},{"lo":26.5,"hi":27.5,"d":0.0118},{"lo":27.5,"hi":28.5,"d":0.0038},{"lo":28.5,"hi":29.5,"d":0.0118},{"lo":29.5,"hi":30.5,"d":0.0059}
 ],
 "histD":[
{"lo":-0.5,"hi":0.5,"d":0.0058},{"lo":0.5,"hi":1.5,"d":0.0198},{"lo":1.5,"hi":2.5,"d":0.0917},{"lo":2.5,"hi":3.5,"d":0.118},{"lo":3.5,"hi":4.5,"d":0.186},{"lo":4.5,"hi":5.5,"d":0.164},{"lo":5.5,"hi":6.5,"d":0.188},{"lo":6.5,"hi":7.5,"d":0.108},{"lo":7.5,"hi":8.5,"d":0.0542},{"lo":8.5,"hi":9.5,"d":0.026},{"lo":9.5,"hi":10.5,"d":0.032},{"lo":10.5,"hi":11.5,"d":0.004},{"lo":11.5,"hi":12.5,"d":0.0017}
 ]
},
"bounds":"flush",
"columns":4,
"align":"each",
"spacing":{"row":23,"column":131},
"resolve":{"scale":{"color":"independent"}},
"concat":[
{"width":126,"height":225,"view":{"stroke":null},"title":{"text":"(a) BA","dx":-10,"offset":8},
 "resolve":{"scale":{"y":"independent"}},
 "layer":[
 {"data":{"name":"nodesA"},"transform":[{"flatten":["nb"],"as":["t"]},{"lookup":"t","from":{"data":{"name":"nodesA"},"key":"id","fields":["x","y"]},"as":["x2","y2"]}],
  "mark":{"type":"rule","color":"black","strokeWidth":3.3},
  "encoding":{"x":{"field":"x","type":"quantitative","scale":{"domain":[0,1.26],"nice":false,"zero":false},"axis":null},"y":{"field":"y","type":"quantitative","scale":{"domain":[0,2.25],"nice":false,"zero":false},"axis":null},"x2":{"field":"x2"},"y2":{"field":"y2"}}},
 {"data":{"name":"moreA"},"transform":[{"flatten":["nb"],"as":["t"]},{"lookup":"id","from":{"data":{"name":"nodesA"},"key":"id","fields":["x","y"]}},{"lookup":"t","from":{"data":{"name":"nodesA"},"key":"id","fields":["x","y"]},"as":["x2","y2"]}],
  "mark":{"type":"rule","color":"black","strokeWidth":3.3},
  "encoding":{"x":{"field":"x","type":"quantitative"},"y":{"field":"y","type":"quantitative","scale":{"domain":[0,2.25],"nice":false,"zero":false},"axis":null},"x2":{"field":"x2"},"y2":{"field":"y2"}}},
 {"data":{"name":"nodesA"},"mark":{"type":"circle","size":70,"opacity":1},
  "encoding":{"x":{"field":"x","type":"quantitative"},"y":{"field":"y","type":"quantitative","scale":{"domain":[0,2.25],"nice":false,"zero":false},"axis":null},"color":{"field":"B","type":"quantitative","scale":{"domain":[2.1,5.7875,9.475,13.1625,16.85,20.5375,24.225,27.9125,31.6],"range":["#3b4cc0","#6282ea","#8db0fe","#b8d0f9","#dddddd","#f5c4ad","#f49a7b","#de604d","#b40426"],"interpolate":"rgb"},"legend":null}}},
 {"data":{"values":[{"panel":"a"}]},"mark":{"type":"rect","filled":false,"color":"black","strokeWidth":2},
  "encoding":{"x":{"datum":0},"x2":{"datum":1.06},"y":{"datum":0,"scale":{"domain":[0,2.25],"nice":false,"zero":false},"axis":null},"y2":{"datum":2.25}}},
 {"data":{"values":[{"lo":2.1,"hi":31.6}]},
  "mark":{"type":"rect","stroke":"black","strokeWidth":2,"fill":{"gradient":"linear","x1":0,"y1":1,"x2":0,"y2":0,"stops":[{"offset":0,"color":"#3b4cc0"},{"offset":0.125,"color":"#6282ea"},{"offset":0.25,"color":"#8db0fe"},{"offset":0.375,"color":"#b8d0f9"},{"offset":0.5,"color":"#dddddd"},{"offset":0.625,"color":"#f5c4ad"},{"offset":0.75,"color":"#f49a7b"},{"offset":0.875,"color":"#de604d"},{"offset":1,"color":"#b40426"}]}},
  "encoding":{"x":{"datum":1.13},"x2":{"datum":1.26},"y":{"field":"lo","type":"quantitative","scale":{"domain":[2.1,31.6],"nice":false,"zero":false},"axis":{"orient":"right","values":[10,20,30],"format":"d","title":"B","labelPadding":7,"titleAngle":270,"titleBaseline":"top","titlePadding":11}},"y2":{"field":"hi"}}}
]},
{"width":126,"height":225,"view":{"stroke":null},"title":{"text":"(b) ER","dx":-10,"offset":-4},
 "resolve":{"scale":{"y":"independent"}},
 "layer":[
 {"data":{"name":"nodesB"},"transform":[{"flatten":["nb"],"as":["t"]},{"lookup":"t","from":{"data":{"name":"nodesB"},"key":"id","fields":["x","y"]},"as":["x2","y2"]}],
  "mark":{"type":"rule","color":"black","strokeWidth":2.8},
  "encoding":{"x":{"field":"x","type":"quantitative","scale":{"domain":[0,1.26],"nice":false,"zero":false},"axis":null},"y":{"field":"y","type":"quantitative","scale":{"domain":[0,2.25],"nice":false,"zero":false},"axis":null},"x2":{"field":"x2"},"y2":{"field":"y2"}}},
 {"data":{"name":"moreB"},"transform":[{"flatten":["nb"],"as":["t"]},{"lookup":"id","from":{"data":{"name":"nodesB"},"key":"id","fields":["x","y"]}},{"lookup":"t","from":{"data":{"name":"nodesB"},"key":"id","fields":["x","y"]},"as":["x2","y2"]}],
  "mark":{"type":"rule","color":"black","strokeWidth":2.8},
  "encoding":{"x":{"field":"x","type":"quantitative"},"y":{"field":"y","type":"quantitative","scale":{"domain":[0,2.25],"nice":false,"zero":false},"axis":null},"x2":{"field":"x2"},"y2":{"field":"y2"}}},
 {"data":{"name":"nodesB"},"mark":{"type":"circle","size":70,"opacity":1},
  "encoding":{"x":{"field":"x","type":"quantitative"},"y":{"field":"y","type":"quantitative","scale":{"domain":[0,2.25],"nice":false,"zero":false},"axis":null},"color":{"field":"B","type":"quantitative","scale":{"domain":[1,1.875,2.75,3.625,4.5,5.375,6.25,7.125,8],"range":["#3b4cc0","#6282ea","#8db0fe","#b8d0f9","#dddddd","#f5c4ad","#f49a7b","#de604d","#b40426"],"interpolate":"rgb"},"legend":null}}},
 {"data":{"values":[{"panel":"b"}]},"mark":{"type":"rect","filled":false,"color":"black","strokeWidth":2},
  "encoding":{"x":{"datum":0},"x2":{"datum":1.06},"y":{"datum":0,"scale":{"domain":[0,2.25],"nice":false,"zero":false},"axis":null},"y2":{"datum":2.25}}},
 {"data":{"values":[{"lo":1,"hi":8}]},
  "mark":{"type":"rect","stroke":"black","strokeWidth":2,"fill":{"gradient":"linear","x1":0,"y1":1,"x2":0,"y2":0,"stops":[{"offset":0,"color":"#3b4cc0"},{"offset":0.125,"color":"#6282ea"},{"offset":0.25,"color":"#8db0fe"},{"offset":0.375,"color":"#b8d0f9"},{"offset":0.5,"color":"#dddddd"},{"offset":0.625,"color":"#f5c4ad"},{"offset":0.75,"color":"#f49a7b"},{"offset":0.875,"color":"#de604d"},{"offset":1,"color":"#b40426"}]}},
  "encoding":{"x":{"datum":1.13},"x2":{"datum":1.26},"y":{"field":"lo","type":"quantitative","scale":{"domain":[1,8],"nice":false,"zero":false},"axis":{"orient":"right","values":[2,4,6,8],"format":"d","title":"B","labelPadding":7,"titleAngle":270,"titleBaseline":"top","titlePadding":11}},"y2":{"field":"hi"}}}
]},
{"width":126,"height":225,"view":{"stroke":null},"title":{"text":"(c) Waxman","dx":-10,"offset":8},
 "resolve":{"scale":{"y":"independent"}},
 "layer":[
 {"data":{"name":"nodesC"},"transform":[{"flatten":["nb"],"as":["t"]},{"lookup":"t","from":{"data":{"name":"nodesC"},"key":"id","fields":["x","y"]},"as":["x2","y2"]}],
  "mark":{"type":"rule","color":"black","strokeWidth":2.8},
  "encoding":{"x":{"field":"x","type":"quantitative","scale":{"domain":[0,1.26],"nice":false,"zero":false},"axis":null},"y":{"field":"y","type":"quantitative","scale":{"domain":[0,2.25],"nice":false,"zero":false},"axis":null},"x2":{"field":"x2"},"y2":{"field":"y2"}}},
 {"data":{"name":"moreC"},"transform":[{"flatten":["nb"],"as":["t"]},{"lookup":"id","from":{"data":{"name":"nodesC"},"key":"id","fields":["x","y"]}},{"lookup":"t","from":{"data":{"name":"nodesC"},"key":"id","fields":["x","y"]},"as":["x2","y2"]}],
  "mark":{"type":"rule","color":"black","strokeWidth":2.8},
  "encoding":{"x":{"field":"x","type":"quantitative"},"y":{"field":"y","type":"quantitative","scale":{"domain":[0,2.25],"nice":false,"zero":false},"axis":null},"x2":{"field":"x2"},"y2":{"field":"y2"}}},
 {"data":{"name":"nodesC"},"mark":{"type":"circle","size":70,"opacity":1},
  "encoding":{"x":{"field":"x","type":"quantitative"},"y":{"field":"y","type":"quantitative","scale":{"domain":[0,2.25],"nice":false,"zero":false},"axis":null},"color":{"field":"B","type":"quantitative","scale":{"domain":[0,1.1225,2.245,3.3675,4.49,5.6125,6.735,7.8575,8.98],"range":["#3b4cc0","#6282ea","#8db0fe","#b8d0f9","#dddddd","#f5c4ad","#f49a7b","#de604d","#b40426"],"interpolate":"rgb"},"legend":null}}},
 {"data":{"values":[{"panel":"c"}]},"mark":{"type":"rect","filled":false,"color":"black","strokeWidth":2},
  "encoding":{"x":{"datum":0},"x2":{"datum":1.06},"y":{"datum":0,"scale":{"domain":[0,2.25],"nice":false,"zero":false},"axis":null},"y2":{"datum":2.25}}},
 {"data":{"values":[{"lo":0,"hi":8.98}]},
  "mark":{"type":"rect","stroke":"black","strokeWidth":2,"fill":{"gradient":"linear","x1":0,"y1":1,"x2":0,"y2":0,"stops":[{"offset":0,"color":"#3b4cc0"},{"offset":0.125,"color":"#6282ea"},{"offset":0.25,"color":"#8db0fe"},{"offset":0.375,"color":"#b8d0f9"},{"offset":0.5,"color":"#dddddd"},{"offset":0.625,"color":"#f5c4ad"},{"offset":0.75,"color":"#f49a7b"},{"offset":0.875,"color":"#de604d"},{"offset":1,"color":"#b40426"}]}},
  "encoding":{"x":{"datum":1.13},"x2":{"datum":1.26},"y":{"field":"lo","type":"quantitative","scale":{"domain":[0,8.98],"nice":false,"zero":false},"axis":{"orient":"right","values":[0,2.5,5,7.5],"format":".1f","title":"B","labelPadding":7,"titleAngle":270,"titleBaseline":"top","titlePadding":11}},"y2":{"field":"hi"}}}
]},
{"width":126,"height":225,"view":{"stroke":null},"title":{"text":"(d) WS","dx":-10,"offset":-4},
 "resolve":{"scale":{"y":"independent"}},
 "layer":[
 {"data":{"name":"nodesD"},"transform":[{"flatten":["nb"],"as":["t"]},{"lookup":"t","from":{"data":{"name":"nodesD"},"key":"id","fields":["x","y"]},"as":["x2","y2"]}],
  "mark":{"type":"rule","color":"black","strokeWidth":2.8},
  "encoding":{"x":{"field":"x","type":"quantitative","scale":{"domain":[-1.3,1.7906],"nice":false,"zero":false},"axis":null},"y":{"field":"y","type":"quantitative","scale":{"domain":[-1.2,1.2],"nice":false,"zero":false},"axis":null},"x2":{"field":"x2"},"y2":{"field":"y2"}}},
 {"data":{"name":"nodesD"},"mark":{"type":"circle","size":70,"opacity":1},
  "encoding":{"x":{"field":"x","type":"quantitative"},"y":{"field":"y","type":"quantitative","scale":{"domain":[-1.2,1.2],"nice":false,"zero":false},"axis":null},"color":{"field":"B","type":"quantitative","scale":{"domain":[0,0.75,1.5,2.25,3,3.75,4.5,5.25,6],"range":["#3b4cc0","#6282ea","#8db0fe","#b8d0f9","#dddddd","#f5c4ad","#f49a7b","#de604d","#b40426"],"interpolate":"rgb"},"legend":null}}},
 {"data":{"values":[{"panel":"d"}]},"mark":{"type":"rect","filled":false,"color":"black","strokeWidth":2},
  "encoding":{"x":{"datum":-1.3},"x2":{"datum":1.3},"y":{"datum":-1.2,"scale":{"domain":[-1.2,1.2],"nice":false,"zero":false},"axis":null},"y2":{"datum":1.2}}},
 {"data":{"values":[{"lo":0,"hi":6}]},
  "mark":{"type":"rect","stroke":"black","strokeWidth":2,"fill":{"gradient":"linear","x1":0,"y1":1,"x2":0,"y2":0,"stops":[{"offset":0,"color":"#3b4cc0"},{"offset":0.125,"color":"#6282ea"},{"offset":0.25,"color":"#8db0fe"},{"offset":0.375,"color":"#b8d0f9"},{"offset":0.5,"color":"#dddddd"},{"offset":0.625,"color":"#f5c4ad"},{"offset":0.75,"color":"#f49a7b"},{"offset":0.875,"color":"#de604d"},{"offset":1,"color":"#b40426"}]}},
  "encoding":{"x":{"datum":1.4717},"x2":{"datum":1.7906},"y":{"field":"lo","type":"quantitative","scale":{"domain":[0,6],"nice":false,"zero":false},"axis":{"orient":"right","values":[0,2,4,6],"format":"d","title":"B","labelPadding":7,"titleAngle":270,"titleBaseline":"top","titlePadding":8}},"y2":{"field":"hi"}}}
]},
{"width":133,"height":226,"data":{"name":"histA"},"mark":{"type":"rect","fill":"#1f77b4","stroke":"white","strokeWidth":1},
 "encoding":{"x":{"field":"lo","type":"quantitative","scale":{"domain":[-1.45,21.56],"nice":false,"zero":false},"axis":{"values":[0,20],"format":"d","title":"B"}},"x2":{"field":"hi"},"y":{"field":"d","type":"quantitative","scale":{"domain":[0,0.415],"nice":false},"axis":{"values":[0,0.2,0.4],"format":".1f","title":"Densidade","labelPadding":11,"titlePadding":6}},"y2":{"datum":0}}},
{"width":133,"height":226,"data":{"name":"histB"},"mark":{"type":"rect","fill":"#1f77b4","stroke":"white","strokeWidth":1},
 "encoding":{"x":{"field":"lo","type":"quantitative","scale":{"domain":[-1.57,21.46],"nice":false,"zero":false},"axis":{"values":[0,20],"format":"d","title":"B"}},"x2":{"field":"hi"},"y":{"field":"d","type":"quantitative","scale":{"domain":[0,0.1664],"nice":false},"axis":{"values":[0,0.05,0.1,0.15],"format":".2f","title":"Densidade","labelPadding":11,"titlePadding":6}},"y2":{"datum":0}}},
{"width":133,"height":226,"data":{"name":"histC"},"mark":{"type":"rect","fill":"#1f77b4","stroke":"white","strokeWidth":1},
 "encoding":{"x":{"field":"lo","type":"quantitative","scale":{"domain":[-1.79,32.4],"nice":false,"zero":false},"axis":{"values":[0,25],"format":"d","title":"B"}},"x2":{"field":"hi"},"y":{"field":"d","type":"quantitative","scale":{"domain":[0,0.1004],"nice":false},"axis":{"values":[0,0.05,0.1],"format":".2f","title":"Densidade","labelPadding":11,"titlePadding":6}},"y2":{"datum":0}}},
{"width":133,"height":226,"data":{"name":"histD"},"mark":{"type":"rect","fill":"#1f77b4","stroke":"white","strokeWidth":1},
 "encoding":{"x":{"field":"lo","type":"quantitative","scale":{"domain":[-1.11,15.27],"nice":false,"zero":false},"axis":{"values":[0,10],"format":"d","title":"B"}},"x2":{"field":"hi"},"y":{"field":"d","type":"quantitative","scale":{"domain":[0,0.1975],"nice":false},"axis":{"values":[0,0.05,0.1,0.15],"format":".2f","title":"Densidade","labelPadding":11,"titlePadding":6}},"y2":{"datum":0}}}
]
}
